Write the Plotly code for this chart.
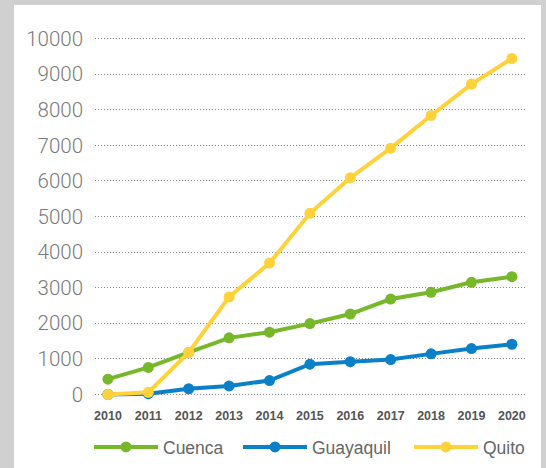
import plotly.graph_objects as go

years = [2010, 2011, 2012, 2013, 2014, 2015, 2016, 2017, 2018, 2019, 2020]
cuenca = [430, 760, 1180, 1590, 1750, 1990, 2260, 2680, 2870, 3150, 3310]
guayaquil = [0, 20, 160, 240, 390, 850, 920, 980, 1140, 1290, 1410]
quito = [0, 60, 1180, 2740, 3690, 5090, 6090, 6920, 7840, 8720, 9440]
series_names = ["Cuenca", "Guayaquil", "Quito"]
series_colors = ["#77B82A", "#0A80C8", "#FFD23A"]
y_ticks = [0, 1000, 2000, 3000, 4000, 5000, 6000, 7000, 8000, 9000, 10000]
y_ticktext = ["0", "1000", "2000", "3000", "4000", "5000", "6000", "7000", "8000", "9000", "10000"]

W, H = 546, 468
L, R, T, B = 95, 20, 35, 70
pw = W - L - R
ph = H - T - B

legend_ids = ["legend", "legend2", "legend3"]
legend_px = [96, 245, 416]

fig = go.Figure()
for name, vals, col, lid in zip(series_names, [cuenca, guayaquil, quito], series_colors, legend_ids):
    fig.add_trace(go.Scatter(
        x=years, y=vals, name=name, mode="lines+markers",
        line=dict(color=col, width=4),
        marker=dict(color=col, size=11),
        cliponaxis=False, legend=lid,
    ))

# white panel
fig.add_shape(type="rect", xref="paper", yref="paper",
              x0=(14 - L) / pw, x1=(541 - L) / pw,
              y0=-(B + 5) / ph, y1=(H - 5 - B) / ph,
              fillcolor="white", line=dict(width=0), layer="below")

legend_font = dict(family="Liberation Sans", size=17.5, color="#666666")
leg_layout = {}
for lid, px in zip(legend_ids, legend_px):
    leg_layout[lid] = dict(orientation="h", x=(px - 7 - L) / pw, xanchor="left",
                           y=(T + ph - 447) / ph, yanchor="middle",
                           font=legend_font, itemwidth=64, bgcolor="rgba(0,0,0,0)")

fig.update_layout(
    width=W, height=H,
    margin=dict(l=L, r=R, t=T, b=B, autoexpand=False),
    paper_bgcolor="#D0D0D0",
    plot_bgcolor="rgba(0,0,0,0)",
    showlegend=True,
    xaxis=dict(range=[2009.68, 2020.35], tickvals=years,
               showgrid=False, zeroline=False, showline=False,
               tickfont=dict(family="Liberation Sans", size=12.5, color="#555555", weight="bold"),
               ticklabelstandoff=8, fixedrange=True, automargin=False),
    yaxis=dict(range=[-100, 10100], tickvals=y_ticks, ticktext=y_ticktext,
               showgrid=True, gridcolor="#888888", griddash="1px,2px", gridwidth=1,
               zeroline=False, showline=False, automargin=False,
               tickfont=dict(family="Roboto", size=20.5, color="#7A7A7A", weight=300),
               ticklabelstandoff=11),
    **leg_layout,
)

fig.write_html("out.html", config={"displayModeBar": False},
               post_script="document.body.style.margin='0';document.body.style.overflow='hidden';")
